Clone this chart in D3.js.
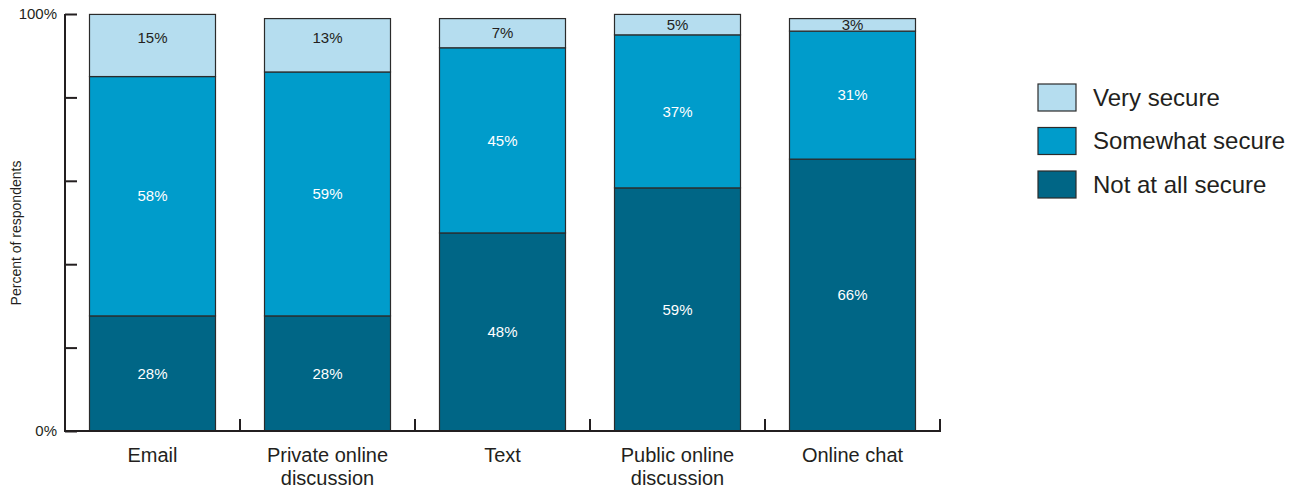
<!DOCTYPE html>
<html>
<head>
<meta charset="utf-8">
<script src="https://cdn.jsdelivr.net/npm/d3@7"></script>
<style>
  html, body { margin: 0; padding: 0; background: #fff; }
  svg { display: block; font-family: "Liberation Sans", Arial, sans-serif; }
</style>
</head>
<body>
<svg id="chart" width="1297" height="491"></svg>
<script>
// ---- data ----
const categories = ["Email", "Private online\ndiscussion", "Text", "Public online\ndiscussion", "Online chat"];
const seriesNames = ["Not at all secure", "Somewhat secure", "Very secure"];
const notAtAllSecure = [27.6, 27.6, 47.5, 58.3, 65.2];
const somewhatSecure = [57.4, 58.5, 44.4, 36.7, 30.7];
const verySecure     = [14.9, 12.8, 7.0, 4.9, 3.0];
const notAtAllLabels = ["28%", "28%", "48%", "59%", "66%"];
const somewhatLabels = ["58%", "59%", "45%", "37%", "31%"];
const veryLabels     = ["15%", "13%", "7%", "5%", "3%"];
const yTickValues = [0, 20, 40, 60, 80, 100];
const yTickLabels = {0: "0%", 100: "100%"};

const colors = ["#006686", "#009ccb", "#b5ddef"];
const labelColors = ["#ffffff", "#ffffff", "#231f20"];

const rows = categories.map((c, i) => ({
  cat: c,
  "Not at all secure": notAtAllSecure[i],
  "Somewhat secure": somewhatSecure[i],
  "Very secure": verySecure[i]
}));
const labelSets = [notAtAllLabels, somewhatLabels, veryLabels];

const svg = d3.select("#chart");
const x = d3.scaleBand().domain(categories).range([65, 940]).paddingInner(0.28).paddingOuter(0.14);
const y = d3.scaleLinear().domain([0, 100]).range([431, 14]);

const stack = d3.stack().keys(seriesNames);
const stacked = stack(rows);

// bars
const layers = svg.append("g").selectAll("g").data(stacked).join("g")
  .attr("fill", (d, i) => colors[i]);
layers.selectAll("rect").data(d => d).join("rect")
  .attr("x", d => x(d.data.cat))
  .attr("width", x.bandwidth())
  .attr("y", d => y(d[1]))
  .attr("height", d => y(d[0]) - y(d[1]))
  .attr("stroke", "#2b2b2b")
  .attr("stroke-width", 1.2);

// segment labels
stacked.forEach((layer, li) => {
  svg.append("g").selectAll("text").data(layer).join("text")
    .attr("x", d => x(d.data.cat) + x.bandwidth() / 2)
    .attr("y", d => {
      let c = (y(d[0]) + y(d[1])) / 2;
      if (li === 2) c = Math.min(c, y(94.2));
      return c;
    })
    .attr("dy", "0.35em")
    .attr("text-anchor", "middle")
    .attr("font-size", 15)
    .attr("fill", labelColors[li])
    .text((d, i) => labelSets[li][i]);
});

// y axis
const yAxis = d3.axisRight(y).tickValues(yTickValues).tickSize(12).tickFormat("");
const gy = svg.append("g").attr("transform", "translate(65,0)").call(yAxis);
gy.select(".domain").remove();
gy.selectAll(".tick line").attr("stroke", "#231f20").attr("stroke-width", 2);
svg.append("line").attr("x1", 65).attr("x2", 65).attr("y1", y(100)).attr("y2", y(0) + 1)
  .attr("stroke", "#231f20").attr("stroke-width", 2);
svg.append("g").selectAll("text").data(yTickValues.filter(v => yTickLabels[v])).join("text")
  .attr("x", 57).attr("y", d => y(d)).attr("dy", "0.35em")
  .attr("text-anchor", "end").attr("font-size", 15).attr("fill", "#231f20")
  .text(d => yTickLabels[d]);

// x axis
const bounds = categories.map(c => x(c) + x.bandwidth() + (x.step() - x.bandwidth()) / 2);
svg.append("line").attr("x1", 64).attr("x2", 941).attr("y1", y(0)).attr("y2", y(0))
  .attr("stroke", "#231f20").attr("stroke-width", 2);
svg.append("g").selectAll("line").data(bounds).join("line")
  .attr("x1", d => d).attr("x2", d => d).attr("y1", y(0)).attr("y2", y(0) - 12)
  .attr("stroke", "#231f20").attr("stroke-width", 2);
const xl = svg.append("g").selectAll("text").data(categories).join("text")
  .attr("x", d => x(d) + x.bandwidth() / 2)
  .attr("y", 462)
  .attr("text-anchor", "middle").attr("font-size", 20).attr("fill", "#231f20");
xl.each(function(d) {
  const t = d3.select(this);
  d.split("\n").forEach((line, i) => {
    t.append("tspan").attr("x", x(d) + x.bandwidth() / 2).attr("dy", i === 0 ? 0 : 23).text(line);
  });
});

// y title
svg.append("text").attr("transform", "translate(21,233) rotate(-90)")
  .attr("text-anchor", "middle").attr("font-size", 14).attr("fill", "#231f20")
  .text("Percent of respondents");

// legend
const legendOrder = [2, 1, 0];
const lg = svg.append("g").selectAll("g").data(legendOrder).join("g")
  .attr("transform", (d, i) => `translate(1038,${84 + i * 43.5})`);
lg.append("rect").attr("width", 38).attr("height", 27)
  .attr("fill", d => colors[d]).attr("stroke", "#2b2b2b").attr("stroke-width", 1.2);
lg.append("text").attr("x", 55).attr("y", 13.5).attr("dy", "0.35em")
  .attr("font-size", 24).attr("fill", "#231f20")
  .text(d => seriesNames[d]);
</script>
</body>
</html>
